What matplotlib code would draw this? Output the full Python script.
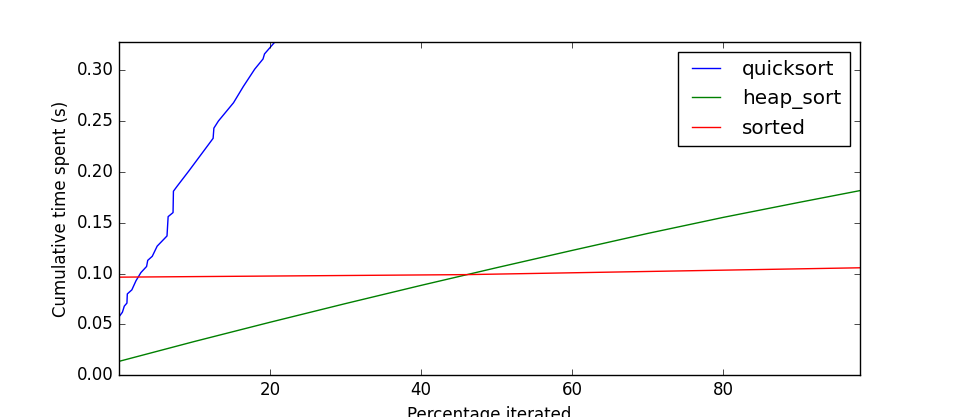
import matplotlib
matplotlib.use('Agg')
import matplotlib.pyplot as plt

# values
qs_x = [0.1, 0.5, 0.75, 1.1, 1.15, 1.75, 2.3, 2.95, 3.7, 3.85, 4.45, 5.1, 6.4, 6.55,
        7.2, 7.25, 7.75, 9.3, 10.4, 11.9, 12.1, 12.5, 12.6, 13.2, 15.2, 16.5, 18.0,
        19.1, 19.3, 20.7, 21.0]
qs_y = [0.058, 0.062, 0.068, 0.071, 0.080, 0.084, 0.093, 0.101, 0.107, 0.113, 0.117,
        0.127, 0.137, 0.156, 0.160, 0.181, 0.186, 0.201, 0.212, 0.227, 0.229, 0.233,
        0.243, 0.250, 0.268, 0.284, 0.301, 0.311, 0.316, 0.328, 0.330]

hs_x = [0.1, 10, 20, 30, 40, 50, 60, 70, 80, 90, 98]
hs_y = [0.0138, 0.0332, 0.0521, 0.0705, 0.0884, 0.1058, 0.1228, 0.1395, 0.1553, 0.1700, 0.1815]

sorted_x = [0.1, 46.1, 98]
sorted_y = [0.0965, 0.0990, 0.1057]

plt.style.use('classic')
fig = plt.figure(figsize=(9.55, 4.17), dpi=100)
ax = fig.add_subplot(111)

ax.plot(qs_x, qs_y, 'b-', label='quicksort')
ax.plot(hs_x, hs_y, 'g-', label='heap_sort')
ax.plot(sorted_x, sorted_y, 'r-', label='sorted')

ax.set_xlim(0.1, 98)
ax.set_ylim(0, 0.328)
ax.set_xlabel('Percentage iterated')
ax.set_ylabel('Cumulative time spent (s)')
ax.legend(loc='upper right')

fig.savefig('out.png', dpi=100)
